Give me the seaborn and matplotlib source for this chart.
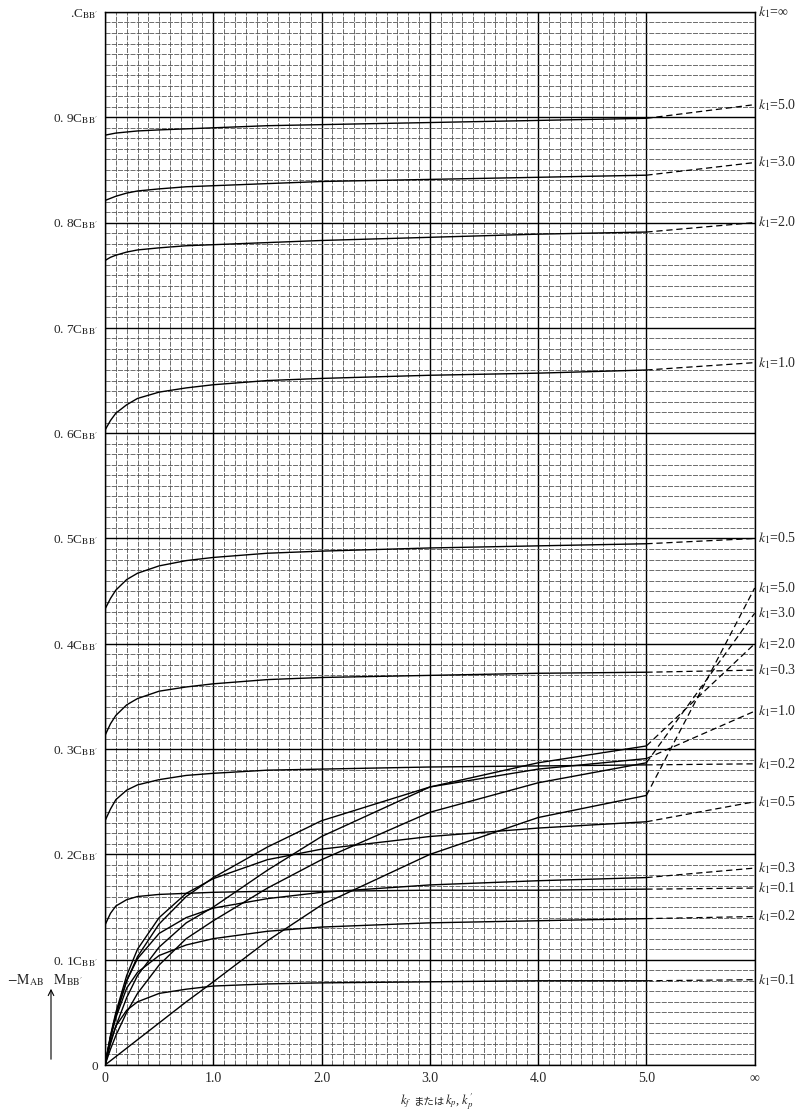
import numpy as np
import pandas as pd
import seaborn as sns
import matplotlib.pyplot as plt
from matplotlib.offsetbox import TextArea, HPacker, AnnotationBbox

# k_f (or k_p, k_p') positions; "inf" is drawn at x = 6
kf = [0, 0.05, 0.1, 0.2, 0.3, 0.5, 0.75, 1.0, 1.5, 2.0, 3.0, 4.0, 5.0]
INF_X = 6.0

k1_names = ["5.0", "3.0", "2.0", "1.0", "0.5", "0.3", "0.2", "0.1"]

# upper family (starts above zero at k_f = 0)
upper_50 = [0.883, 0.884, 0.885, 0.886, 0.887, 0.888, 0.889, 0.890, 0.892, 0.893, 0.895, 0.897, 0.899]
upper_30 = [0.821, 0.823, 0.825, 0.828, 0.830, 0.832, 0.834, 0.835, 0.837, 0.839, 0.841, 0.843, 0.845]
upper_20 = [0.764, 0.767, 0.769, 0.772, 0.774, 0.776, 0.778, 0.779, 0.781, 0.783, 0.786, 0.789, 0.791]
upper_10 = [0.603, 0.612, 0.619, 0.627, 0.633, 0.639, 0.643, 0.646, 0.650, 0.652, 0.655, 0.657, 0.660]
upper_05 = [0.433, 0.443, 0.451, 0.461, 0.467, 0.474, 0.479, 0.482, 0.486, 0.488, 0.491, 0.493, 0.495]
upper_03 = [0.313, 0.324, 0.332, 0.342, 0.348, 0.355, 0.359, 0.362, 0.366, 0.368, 0.370, 0.372, 0.373]
upper_02 = [0.232, 0.243, 0.252, 0.261, 0.266, 0.271, 0.275, 0.277, 0.280, 0.281, 0.283, 0.284, 0.285]
upper_01 = [0.133, 0.144, 0.151, 0.157, 0.160, 0.162, 0.163, 0.164, 0.165, 0.165, 0.166, 0.166, 0.167]
upper_inf = [0.912, 0.857, 0.800, 0.667, 0.500, 0.375, 0.286, 0.168]

# lower family (starts at the origin)
lower_50 = [0, 0.004, 0.008, 0.016, 0.024, 0.040, 0.060, 0.079, 0.118, 0.152, 0.200, 0.235, 0.256]
lower_30 = [0, 0.015, 0.028, 0.050, 0.068, 0.095, 0.120, 0.137, 0.168, 0.195, 0.240, 0.268, 0.287]
lower_20 = [0, 0.020, 0.037, 0.064, 0.085, 0.112, 0.135, 0.150, 0.185, 0.217, 0.264, 0.287, 0.303]
lower_10 = [0, 0.026, 0.047, 0.080, 0.103, 0.134, 0.160, 0.178, 0.207, 0.232, 0.264, 0.281, 0.291]
lower_05 = [0, 0.028, 0.050, 0.085, 0.110, 0.140, 0.163, 0.177, 0.195, 0.205, 0.217, 0.225, 0.231]
lower_03 = [0, 0.027, 0.048, 0.080, 0.101, 0.125, 0.140, 0.149, 0.158, 0.164, 0.171, 0.175, 0.178]
lower_02 = [0, 0.026, 0.045, 0.073, 0.088, 0.104, 0.114, 0.120, 0.127, 0.131, 0.135, 0.137, 0.139]
lower_01 = [0, 0.022, 0.037, 0.052, 0.060, 0.068, 0.072, 0.075, 0.077, 0.078, 0.079, 0.080, 0.080]
lower_inf = [0.453, 0.429, 0.400, 0.336, 0.250, 0.187, 0.141, 0.081]

y_ticks = [0, 0.1, 0.2, 0.3, 0.4, 0.5, 0.6, 0.7, 0.8, 0.9, 1.0]
y_ticklabels = ["0", "0. 1", "0. 2", "0. 3", "0. 4", "0. 5", "0. 6", "0. 7", "0. 8", "0. 9", "."]
x_ticks = [0, 1, 2, 3, 4, 5, 6]
x_ticklabels = ["0", "1.0", "2.0", "3.0", "4.0", "5.0", "∞"]

upper = [upper_50, upper_30, upper_20, upper_10, upper_05, upper_03, upper_02, upper_01]
lower = [lower_50, lower_30, lower_20, lower_10, lower_05, lower_03, lower_02, lower_01]


def to_long(curves):
    rows = []
    for name, vals in zip(k1_names, curves):
        for x, v in zip(kf, vals):
            rows.append({"k1": name, "kf": x, "M": v})
    return pd.DataFrame(rows)


def tails(curves, ends):
    rows = []
    for name, vals, end in zip(k1_names, curves, ends):
        rows.append({"k1": name, "kf": kf[-1], "M": vals[-1]})
        rows.append({"k1": name, "kf": INF_X, "M": end})
    return pd.DataFrame(rows)


sns.set_style("white")
plt.rcParams["font.family"] = ["Liberation Serif", "Noto Sans CJK JP", "DejaVu Sans"]
plt.rcParams["mathtext.fontset"] = "stix"

fig = plt.figure(figsize=(8.08, 11.18), dpi=100)
ax = fig.add_axes([0.130, 0.0474, 0.804, 0.9419])

# graph-paper grid
ax.set_xticks(np.arange(0, 5.01, 0.1), minor=True)
ax.set_yticks(np.arange(0, 1.001, 0.01), minor=True)
ax.grid(which="minor", color="#555555", lw=0.6, ls=(0, (6, 1.5)))
ax.grid(which="major", color="black", lw=1.0)
ax.set_axisbelow(True)

for df in (to_long(upper), to_long(lower)):
    sns.lineplot(data=df, x="kf", y="M", units="k1", estimator=None,
                 color="black", lw=1.0, sort=False, ax=ax)
for df in (tails(upper, upper_inf), tails(lower, lower_inf)):
    sns.lineplot(data=df, x="kf", y="M", units="k1", estimator=None,
                 color="black", lw=0.9, linestyle=(0, (5, 3)), sort=False, ax=ax)

ax.set_xlim(0, INF_X)
ax.set_ylim(0, 1.0)
ax.set_xticks(x_ticks)
ax.set_xticklabels(x_ticklabels, fontsize=10)
ax.set_yticks(y_ticks)
ax.set_yticklabels([t if t == "0" else t + r"C$_{\mathrm{BB'}}$" for t in y_ticklabels], fontsize=9.5)
ax.tick_params(which="major", length=3, direction="out", pad=2)
ax.tick_params(which="minor", length=0)
ax.set_xlabel("")
ax.set_ylabel("")
for s in ax.spines.values():
    s.set_color("black")
    s.set_linewidth(1.0)

# x-axis title: k_f または k_p, k_p'
parts = [
    TextArea(r"$k_f$", textprops=dict(fontsize=9)),
    TextArea("または", textprops=dict(fontsize=7.5, family="Noto Sans CJK JP")),
    TextArea(r"$k_p$, $k_p'$", textprops=dict(fontsize=9)),
]
xlab = AnnotationBbox(HPacker(children=parts, pad=0, sep=1, align="baseline"),
                      (437 / 808, 1 - 1102 / 1118), xycoords="figure fraction",
                      frameon=False, box_alignment=(0.5, 0.5))
fig.add_artist(xlab)

# right-hand k1 labels
ax.text(INF_X + 0.03, 1.0, r"$k_1$=∞", fontsize=10, va="center", ha="left", clip_on=False)
for name, v in zip(k1_names, upper_inf):
    ax.text(INF_X + 0.03, v, r"$k_1$=" + name, fontsize=10, va="center", ha="left", clip_on=False)
for name, v in zip(k1_names, lower_inf):
    ax.text(INF_X + 0.03, v, r"$k_1$=" + name, fontsize=10, va="center", ha="left", clip_on=False)

fig.text(7 / 808, 1 - 980 / 1118, r"$-\mathrm{M}_{\mathrm{AB}}$   $\mathrm{M}_{\mathrm{BB'}}$",
         fontsize=10, va="center")
ax.annotate("", xy=(51 / 808, 1 - 986 / 1118), xytext=(51 / 808, 1 - 1062 / 1118),
            xycoords="figure fraction", textcoords="figure fraction",
            arrowprops=dict(arrowstyle="->", lw=0.8, color="black"))

fig.savefig("out.png", dpi=100)
